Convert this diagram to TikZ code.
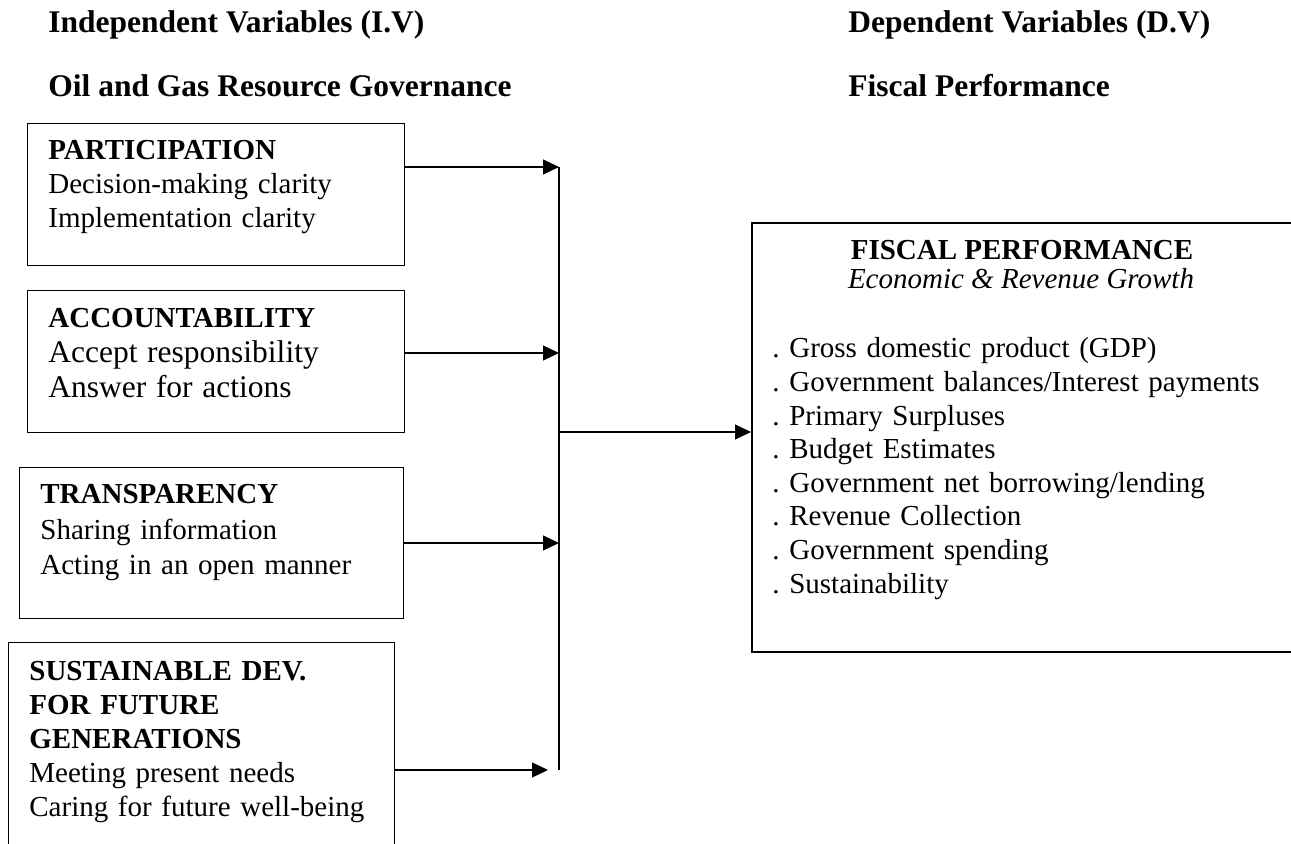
\documentclass[tikz,border=0pt]{standalone}
\usepackage{fontspec}
\setmainfont{Liberation Serif}
\usetikzlibrary{arrows.meta}
\frenchspacing

\def\fsmall{\fontsize{14.5}{17}\selectfont}
\def\fbig{\fontsize{15.75}{18}\selectfont}

\begin{document}
\begin{tikzpicture}[x=0.5pt, y=-0.5pt]
\tikzset{box/.style = {draw, line width=0.7pt, inner sep=0pt, anchor=north west}}
\tikzset{txt/.style = {inner sep=0pt, anchor=base west, align=left, text width=190pt, font=\fsmall}}
\tikzset{title/.style = {inner sep=0pt, anchor=base west, font=\fbig\bfseries}}
\tikzset{arrow/.style = {-{Triangle[length=8pt, width=7.5pt]}, line width=0.55pt}}
\tikzset{bus/.style = {-, line width=0.55pt}}
\path[use as bounding box, clip] (0,0) rectangle (1291,844);

\node[title] (iv) at (48,33) {Independent Variables (I.V)};
\node[title] (ogg) at (48,97) {Oil and Gas Resource Governance};
\node[title] (dv) at (848,33) {Dependent Variables (D.V)};
\node[title] (fpt) at (848,97) {Fiscal Performance};

\node[box, minimum width=188.5pt, minimum height=71pt] (p1) at (27,123) {};
\node[box, minimum width=188.5pt, minimum height=71pt] (a2) at (27,290) {};
\node[box, minimum width=192pt, minimum height=75.5pt] (t3) at (19,467) {};
\node[box, minimum width=193pt, minimum height=110pt] (s4) at (8,642) {};
\node[box, line width=0.95pt, minimum width=280pt, minimum height=214.5pt] (fp) at (751,222) {};

\node[txt] (p1t) at (48,160) {\textbf{PARTICIPATION}\\Decision-making clarity\\Implementation clarity};
\node[txt, font=\fontsize{14.5}{17.5}\selectfont] (a2t) at (48,328) {\textbf{ACCOUNTABILITY}\\{\fbig Accept responsibility}\\{\fbig Answer for actions}};
\node[txt, font=\fontsize{14.5}{17.6}\selectfont] (t3t) at (40,504) {\textbf{TRANSPARENCY}\\Sharing information\\Acting in an open manner};
\node[txt, font=\fontsize{14.5}{17.1}\selectfont] (s4t) at (29,680) {\textbf{SUSTAINABLE DEV.}\\\textbf{FOR FUTURE}\\\textbf{GENERATIONS}\\Meeting present needs\\Caring for future well-being};

\node[inner sep=0pt, anchor=base, font=\fsmall\bfseries] (fph) at (1022,260) {FISCAL PERFORMANCE};
\node[inner sep=0pt, anchor=base, font=\fsmall\itshape] (fps) at (1021,289) {Economic \& Revenue Growth};
\node[txt, font=\fontsize{14.5}{16.8}\selectfont, text width=260pt] (fpl) at (772,358) {. Gross domestic product (GDP)\\. Government balances/Interest payments\\. Primary Surpluses\\. Budget Estimates\\. Government net borrowing/lending\\. Revenue Collection\\. Government spending\\. Sustainability};

\coordinate (j1) at (559,167);
\coordinate (j2) at (559,353);
\coordinate (j3) at (559,543);
\coordinate (j4) at (559,770);
\coordinate (t4) at (548,770);
\coordinate (j0) at (559,432);

\draw[bus] (j1) -- (j4);
\draw[arrow] (p1.east |- j1) -- (j1);
\draw[arrow] (a2.east |- j2) -- (j2);
\draw[arrow] (t3.east |- j3) -- (j3);
\draw[arrow] (s4.east |- t4) -- (t4);
\draw[arrow] (j0) -- (j0 -| fp.west);
\end{tikzpicture}
\end{document}
